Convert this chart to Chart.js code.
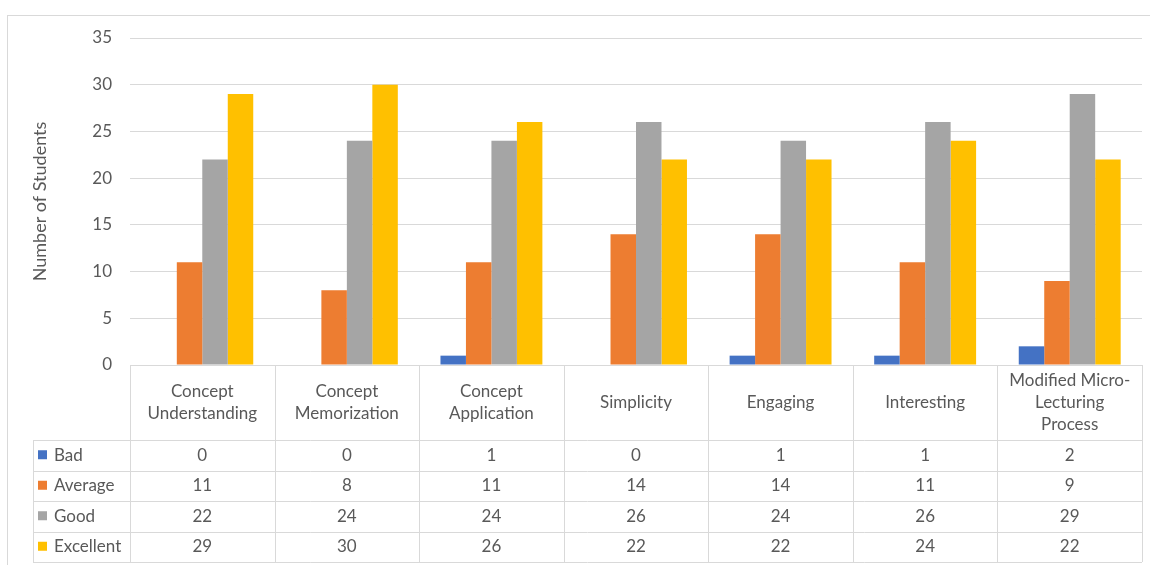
<!DOCTYPE html>
<html>
<head>
<meta charset="utf-8">
<script src="https://cdn.jsdelivr.net/npm/chart.js@4"></script>
<style>
  body { margin: 0; background: #fff; }
  #wrap { width: 1150px; height: 565px; }
</style>
</head>
<body>
<div id="wrap"><canvas id="myChart"></canvas></div>
<script>
const categories = [
  ["Concept", "Understanding"],
  ["Concept", "Memorization"],
  ["Concept", "Application"],
  ["Simplicity"],
  ["Engaging"],
  ["Interesting"],
  ["Modified Micro-", "Lecturing", "Process"],
];
const badValues = [0, 0, 1, 0, 1, 1, 2];
const averageValues = [11, 8, 11, 14, 14, 11, 9];
const goodValues = [22, 24, 24, 26, 24, 26, 29];
const excellentValues = [29, 30, 26, 22, 22, 24, 22];

const textColor = "#595959";
const lineColor = "#d9d9d9";
const fontFamily = "Lato, 'Open Sans', sans-serif";

// draws the outer frame and the data table under the bars
const tablePlugin = {
  id: "dataTable",
  beforeDraw(chart) {
    const c = chart.ctx;
    c.save();
    c.strokeStyle = lineColor;
    c.lineWidth = 1;
    c.strokeRect(7.5, 15.5, 1150, 560);
    c.restore();
  },
  afterDraw(chart) {
    const c = chart.ctx;
    const x = chart.scales.x;
    const n = categories.length;
    const w = (x.right - x.left) / n;
    const top = chart.chartArea.bottom;
    const headerH = 75;
    const rowH = 30.5;
    const legendLeft = 33;
    const sets = chart.data.datasets;
    const bottom = top + headerH + rowH * sets.length;

    c.save();
    c.strokeStyle = lineColor;
    c.lineWidth = 1;
    c.beginPath();
    // header row top
    c.moveTo(x.left, top + 0.5);
    c.lineTo(x.right, top + 0.5);
    // data rows
    for (let r = 0; r <= sets.length; r++) {
      const y = Math.round(top + headerH + r * rowH) + 0.5;
      c.moveTo(legendLeft, y);
      c.lineTo(x.right, y);
    }
    // column lines
    for (let i = 0; i <= n; i++) {
      const xx = Math.round(x.left + i * w) + 0.5;
      c.moveTo(xx, top);
      c.lineTo(xx, bottom);
    }
    c.moveTo(legendLeft + 0.5, top + headerH);
    c.lineTo(legendLeft + 0.5, bottom);
    c.stroke();

    c.fillStyle = textColor;
    c.font = "17px " + fontFamily;
    c.textAlign = "center";
    c.textBaseline = "middle";
    const lh = 22;
    categories.forEach(function (lines, i) {
      const cx = x.getPixelForValue(i);
      const y0 = top + headerH / 2 - (lines.length - 1) * lh / 2;
      lines.forEach(function (t, k) {
        c.fillText(t, cx, y0 + k * lh);
      });
    });

    sets.forEach(function (ds, r) {
      const cy = top + headerH + r * rowH + rowH / 2;
      c.fillStyle = ds.backgroundColor;
      c.fillRect(legendLeft + 5, cy - 5, 9, 9);
      c.fillStyle = textColor;
      c.textAlign = "left";
      c.fillText(ds.label, legendLeft + 21, cy);
      c.textAlign = "center";
      ds.data.forEach(function (v, i) {
        c.fillText(String(v), x.getPixelForValue(i), cy);
      });
    });
    c.restore();
  },
};

const ctx = document.getElementById("myChart").getContext("2d");

const chart = new Chart(ctx, {
  type: "bar",
  data: {
    labels: categories.map(function (l) { return l.join(" "); }),
    datasets: [
      { label: "Bad", data: badValues, backgroundColor: "#4472C4" },
      { label: "Average", data: averageValues, backgroundColor: "#ED7D31" },
      { label: "Good", data: goodValues, backgroundColor: "#A5A5A5" },
      { label: "Excellent", data: excellentValues, backgroundColor: "#FFC000" },
    ],
  },
  options: {
    responsive: true,
    maintainAspectRatio: false,
    animation: false,
    layout: {
      padding: { left: 25, right: 8, top: 38, bottom: 200 },
    },
    datasets: {
      bar: { categoryPercentage: 0.705, barPercentage: 1 },
    },
    plugins: {
      legend: { display: false },
      tooltip: { enabled: false },
    },
    scales: {
      x: {
        display: false,
      },
      y: {
        min: 0,
        max: 35,
        ticks: {
          stepSize: 5,
          color: textColor,
          padding: 18,
          font: { size: 17, family: fontFamily },
        },
        grid: { color: lineColor, drawTicks: false },
        border: { display: false },
        title: {
          display: true,
          text: "Number of Students",
          color: textColor,
          padding: { top: 4, bottom: 4 },
          font: { size: 18, family: fontFamily },
        },
        afterFit(scale) {
          scale.width = 105;
        },
      },
    },
  },
  plugins: [tablePlugin],
});
</script>
</body>
</html>
